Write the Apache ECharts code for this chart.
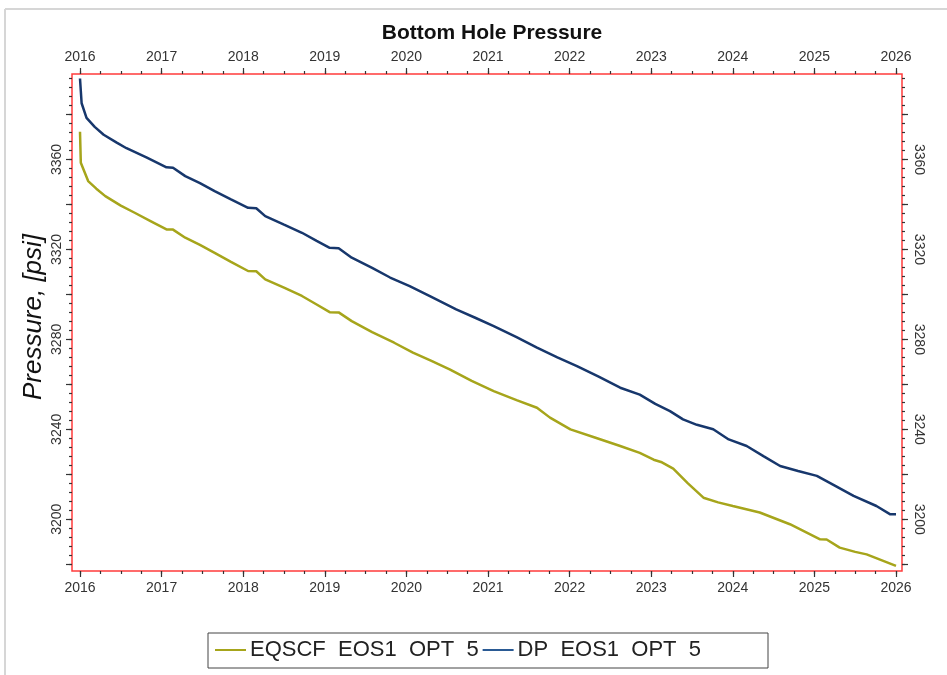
<!DOCTYPE html>
<html>
<head>
<meta charset="utf-8">
<style>
  html, body { margin: 0; padding: 0; background: #ffffff; }
  #chart { width: 947px; height: 675px; }
</style>
<script src="https://cdn.jsdelivr.net/npm/echarts@6/dist/echarts.min.js"></script>
</head>
<body>
<div id="chart"></div>
<script>
// Bottom hole pressure, two simulation cases, time in decimal years
const dpT = [2016.00, 2016.02, 2016.08, 2016.18, 2016.29, 2016.45, 2016.57, 2016.82, 2017.06, 2017.14,
  2017.29, 2017.47, 2017.65, 2017.85, 2018.06, 2018.16, 2018.27, 2018.50, 2018.72, 2018.90,
  2019.06, 2019.17, 2019.33, 2019.58, 2019.80, 2020.04, 2020.30, 2020.61, 2020.85, 2021.07,
  2021.35, 2021.60, 2021.85, 2022.09, 2022.35, 2022.62, 2022.86, 2023.05, 2023.23, 2023.39,
  2023.56, 2023.76, 2023.95, 2024.17, 2024.38, 2024.58, 2024.80, 2025.03, 2025.25, 2025.48,
  2025.76, 2025.93, 2026.00];
const dpP = [3396.0, 3385.0, 3378.5, 3374.5, 3371.0, 3367.5, 3365.0, 3360.8, 3356.5, 3356.3,
  3352.6, 3349.5, 3345.9, 3342.2, 3338.5, 3338.3, 3334.8, 3331.0, 3327.4, 3323.8,
  3320.7, 3320.5, 3316.3, 3311.8, 3307.5, 3303.7, 3299.0, 3293.3, 3289.5, 3285.9,
  3281.0, 3276.3, 3272.0, 3268.1, 3263.5, 3258.5, 3255.4, 3251.3, 3248.1, 3244.4,
  3242.0, 3240.0, 3235.5, 3232.6, 3228.0, 3223.7, 3221.5, 3219.3, 3215.0, 3210.4,
  3205.9, 3202.2, 3202.2];

const eqT = [2016.00, 2016.01, 2016.10, 2016.20, 2016.31, 2016.50, 2016.67, 2016.87, 2017.06, 2017.14,
  2017.29, 2017.47, 2017.65, 2017.85, 2018.06, 2018.16, 2018.27, 2018.50, 2018.72, 2018.90,
  2019.06, 2019.17, 2019.33, 2019.58, 2019.85, 2020.08, 2020.30, 2020.53, 2020.80, 2021.07,
  2021.35, 2021.60, 2021.76, 2022.01, 2022.30, 2022.62, 2022.86, 2023.03, 2023.12, 2023.27,
  2023.45, 2023.64, 2023.82, 2024.00, 2024.33, 2024.70, 2025.07, 2025.15, 2025.31, 2025.50,
  2025.64, 2026.00];
const eqP = [3372.3, 3358.5, 3350.4, 3347.0, 3343.7, 3339.5, 3336.3, 3332.5, 3328.9, 3328.8,
  3325.2, 3322.0, 3318.5, 3314.5, 3310.4, 3310.3, 3306.7, 3303.0, 3299.3, 3295.5,
  3292.1, 3292.0, 3288.1, 3283.2, 3278.5, 3274.1, 3270.5, 3266.7, 3261.5, 3257.0,
  3253.0, 3249.6, 3245.2, 3240.0, 3236.5, 3232.6, 3229.5, 3226.5, 3225.5, 3222.5,
  3216.0, 3209.6, 3207.5, 3205.9, 3203.0, 3197.8, 3191.1, 3191.0, 3187.4, 3185.5,
  3184.4, 3179.3];

const seriesNames = ['EQSCF  EOS1  OPT  5', 'DP  EOS1  OPT  5'];
const yearLabels = [2016, 2017, 2018, 2019, 2020, 2021, 2022, 2023, 2024, 2025, 2026];
const pressureLabels = [3200, 3240, 3280, 3320, 3360];

// axis extents
const xMin = 2015.902, xMax = 2026.0735;
const yMin = 3177, yMax = 3398;

// tick positions: quarters on the time axis, 4 psi / 20 psi on the pressure axis
const quarterTicks = [];
for (let q = 2016 * 4; q <= 2026 * 4; q++) quarterTicks.push(q / 4);
const psiMinorTicks = [];
for (let p = 3180; p <= 3396; p += 4) psiMinorTicks.push(p);
const psiMajorTicks = [];
for (let p = 3180; p <= 3380; p += 20) psiMajorTicks.push(p);

const FONT = 'Liberation Sans, Arial, sans-serif';
const TICK = '#333333';

function pairs(t, p) { return t.map((v, i) => [v, p[i]]); }

function xAxisDef(pos, withLabels, ticks, len) {
  return {
    type: 'value', position: pos, min: xMin, max: xMax, gridIndex: 0,
    axisLine: { show: false },
    splitLine: { show: false },
    axisTick: { show: true, inside: false, length: len, customValues: ticks,
      lineStyle: { color: TICK, width: 1.2 } },
    axisLabel: { show: withLabels, customValues: yearLabels, margin: 10,
      fontFamily: FONT, fontSize: 14, color: '#333', formatter: v => String(Math.round(v)) }
  };
}

function yAxisDef(pos, withLabels, ticks, len) {
  return {
    type: 'value', position: pos, min: yMin, max: yMax, gridIndex: 0,
    axisLine: { show: false },
    splitLine: { show: false },
    axisTick: { show: true, inside: false, length: len, customValues: ticks,
      lineStyle: { color: TICK, width: 1.2 } },
    axisLabel: { show: withLabels, customValues: pressureLabels, margin: pos === 'left' ? 8 : 10,
      rotate: pos === 'left' ? 90 : -90,
      fontFamily: FONT, fontSize: 14, color: '#333', formatter: v => String(Math.round(v)) }
  };
}

const chart = echarts.init(document.getElementById('chart'), null, { renderer: 'canvas' });

chart.setOption({
  backgroundColor: '#ffffff',
  animation: false,
  title: {
    text: 'Bottom Hole Pressure', left: 487, top: 18, textAlign: 'center',
    textStyle: { fontFamily: FONT, fontSize: 21, fontWeight: 'bold', color: '#111' }
  },
  grid: {
    left: 72, top: 74, right: 45, bottom: 104,
    show: true, borderColor: '#ff3b3b', borderWidth: 1.5, backgroundColor: '#ffffff'
  },
  xAxis: [
    xAxisDef('bottom', true, yearLabels, 6),
    xAxisDef('bottom', false, quarterTicks, 3),
    xAxisDef('top', true, yearLabels, 6),
    xAxisDef('top', false, quarterTicks, 3)
  ],
  yAxis: [
    yAxisDef('left', true, psiMajorTicks, 6),
    yAxisDef('left', false, psiMinorTicks, 3),
    yAxisDef('right', true, psiMajorTicks, 6),
    yAxisDef('right', false, psiMinorTicks, 3)
  ],
  legend: {
    left: 208, top: 633,
    data: seriesNames,
    icon: 'rect', itemWidth: 31, itemHeight: 2, itemGap: 4,
    padding: [6, 67, 7, 7],
    borderColor: '#444', borderWidth: 1,
    textStyle: { fontFamily: FONT, fontSize: 22, color: '#222', padding: [0, 0, 0, -1] }
  },
  graphic: [
    { type: 'line', shape: { x1: 5, y1: 9, x2: 947, y2: 9 }, style: { stroke: '#d6d6d6', lineWidth: 2 } },
    { type: 'line', shape: { x1: 5, y1: 9, x2: 5, y2: 675 }, style: { stroke: '#d6d6d6', lineWidth: 2 } },
    { type: 'text', x: 34, y: 317, rotation: Math.PI / 2,
      style: { text: 'Pressure, [psi]', fontFamily: FONT, fontSize: 26, fontStyle: 'italic',
        fill: '#111', align: 'center', verticalAlign: 'middle' } }
  ],
  series: [
    { name: seriesNames[0], type: 'line', xAxisIndex: 0, yAxisIndex: 0, showSymbol: false,
      data: pairs(eqT, eqP), lineStyle: { color: '#a6a51b', width: 2.5 }, itemStyle: { color: '#a6a51b' } },
    { name: seriesNames[1], type: 'line', xAxisIndex: 0, yAxisIndex: 0, showSymbol: false,
      data: pairs(dpT, dpP), lineStyle: { color: '#17376c', width: 2.5 }, itemStyle: { color: '#2a5a94' } }
  ]
});
</script>
</body>
</html>
